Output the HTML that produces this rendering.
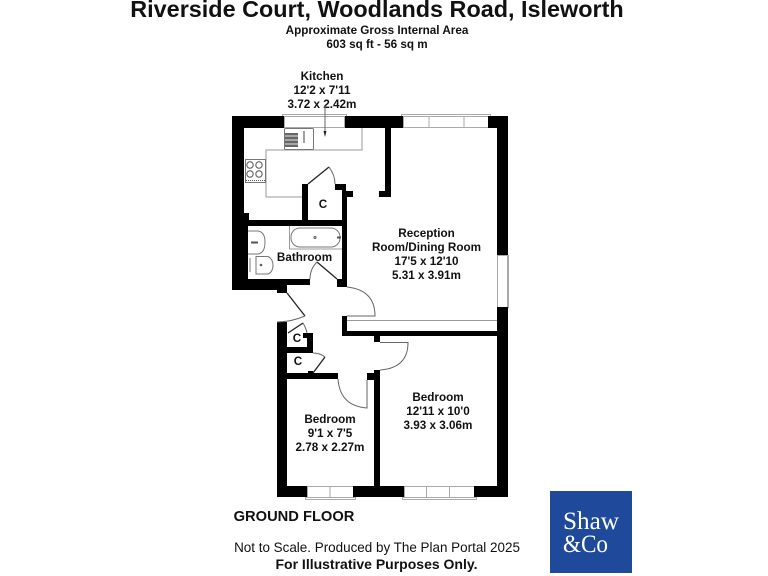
<!DOCTYPE html>
<html><head><meta charset="utf-8"><style>
html,body{margin:0;padding:0;background:#fff;width:768px;height:576px;overflow:hidden}
svg{display:block}
text{font-family:"Liberation Sans",Arial,sans-serif;text-anchor:middle;fill:#111}
.b{font-weight:bold}
.r{font-size:11.7px;font-weight:bold}
.l{font-family:"Liberation Serif",serif;text-anchor:start;fill:#fff}
</style></head><body>
<svg width="768" height="576" viewBox="0 0 768 576" xmlns="http://www.w3.org/2000/svg">
<text x="377" y="17" class="b" font-size="23.4">Riverside Court, Woodlands Road, Isleworth</text>
<text x="377" y="34" class="b" font-size="11.7">Approximate Gross Internal Area</text>
<text x="377" y="48" class="b" font-size="11.7">603 sq ft - 56 sq m</text>
<text x="322" y="80" class="r">Kitchen</text>
<text x="322" y="94" class="r">12'2 x 7'11</text>
<text x="322" y="108" class="r">3.72 x 2.42m</text>

<!-- fixtures -->
<g fill="none" stroke="#9a9a9a" stroke-width="1">
<path d="M362 128V150H266V197H302"/>
<rect x="284.500" y="128.500" width="29" height="21" rx="1" fill="#fff" stroke="#777"/>
<rect x="245.500" y="159.500" width="20" height="23" fill="#fff" stroke="#777"/>
<path d="M289.500 226V249H342"/>
<rect x="291" y="228" width="49" height="19" rx="9" stroke="#777"/>
<path d="M248 231H258Q265 232 265 242Q265 253 258 254H248" stroke="#777"/>
<path d="M256 256.500H268Q273 259 273 265Q273 272 268 274H256Z" stroke="#777"/>
<path d="M250 258V272" stroke="#777"/>
</g>
<!-- sink and hob detail -->
<rect x="285" y="133" width="13" height="14" fill="#666"/>
<path d="M285 136H298M285 140H298M285 144H298" stroke="#ccc" stroke-width="1.2"/>
<path d="M304 131V143" stroke="#444"/>
<g fill="none" stroke="#555">
<circle cx="250" cy="165" r="3.200"/><circle cx="259" cy="165" r="3.200"/>
<circle cx="250" cy="174" r="3.200"/><circle cx="259" cy="174" r="3.200"/>
<path d="M246 180.500H265" stroke-dasharray="1 1"/>
<circle cx="315" cy="237.500" r="1"/>
<circle cx="261" cy="265" r=".8"/>
</g>
<path d="M251 242.500H258M337 237.500H341" stroke="#555" stroke-width="2"/>

<!-- windows -->
<g fill="#fff" stroke="#aaa" stroke-width="1">
<rect x="282.500" y="114.500" width="64" height="2"/>
<rect x="284.500" y="116.500" width="60" height="11"/>
<rect x="401.500" y="114.500" width="89" height="2"/>
<rect x="403.500" y="116.500" width="85" height="11"/>
<path d="M429 116V128M464 116V128" fill="none"/>
<rect x="497.500" y="255.500" width="10" height="52"/>
<path d="M508.500 255V308" fill="none"/>
<rect x="307.500" y="486.500" width="46" height="11"/>
<path d="M330 487V497" fill="none"/>
<rect x="305.500" y="497.500" width="50" height="2"/>
<rect x="404.500" y="486.500" width="70" height="11"/>
<path d="M426.500 487V497M449.500 487V497" fill="none"/>
<rect x="402.500" y="497.500" width="74" height="2"/>
</g>

<!-- walls -->
<g fill="#000">
<path d="M232 116H284V128H244V213H249V220H342V190H335V184H346V191H353V197H347V287H337V279H310V285H287V293H277V290H232Z
M248 226V279H342V226Z" fill-rule="evenodd"/>
<rect x="345" y="116" width="58" height="12"/>
<rect x="385" y="128" width="6" height="69"/>
<rect x="379" y="191" width="12" height="6"/>
<rect x="488" y="116" width="20" height="12"/>
<rect x="497" y="116" width="11" height="139"/>
<rect x="497" y="307" width="11" height="190"/>
<rect x="302" y="184" width="6" height="36"/>
<path d="M342 316H347V331H497V336H380V342H374V336H342Z"/>
<rect x="374" y="370" width="6" height="127"/>
<rect x="367" y="373" width="13" height="7"/>
<rect x="277" y="322" width="10" height="175"/>
<rect x="277" y="486" width="30" height="11"/>
<rect x="353" y="486" width="51" height="11"/>
<rect x="474" y="486" width="34" height="11"/>
<rect x="307" y="333" width="6" height="20"/>
<rect x="303" y="333" width="10" height="5"/>
<rect x="287" y="347" width="26" height="6"/>
<rect x="287" y="373" width="51" height="6"/>
<rect x="308" y="371" width="5" height="3"/>
</g>
<!-- doors and thin lines -->
<g fill="none" stroke="#222" stroke-width="1.300">
<path d="M308 184L329 167"/>
<path d="M317 262L337 279"/>
<path d="M287 293L305 316"/>
<path d="M288 333L303 323"/>
<path d="M313 373L325 357"/>
</g>
<g fill="none" stroke="#666" stroke-width="1">
<path d="M329 167Q335 175 335 184"/>
<path d="M317 262Q310 269 310 279"/>
<path d="M305 316Q291 322 277 322"/>
<path d="M313 353Q320 353 325 357"/>
<path d="M303 323Q306 328 307 333"/>
<path d="M347 287Q375 290 375 316H347"/>
<path d="M338 379Q340 406 367 408V380"/>
<path d="M380 342.500H408Q408 368 380 370"/>
<path d="M347 320.500H497" stroke="#999"/>
<path d="M325 106V134"/>
</g>
<path d="M323.500 131H326.500L325 137Z" fill="#222"/>

<!-- labels -->
<text x="323" y="208" class="b" font-size="11.7">C</text>
<text x="297" y="342" class="b" font-size="11.7">C</text>
<text x="298" y="365" class="b" font-size="11.7">C</text>
<text x="304.500" y="261" class="r">Bathroom</text>
<text x="426.500" y="237" class="r">Reception</text>
<text x="426.500" y="251" class="r">Room/Dining Room</text>
<text x="426.500" y="265" class="r">17'5 x 12'10</text>
<text x="426.500" y="279" class="r">5.31 x 3.91m</text>
<text x="438" y="401" class="r">Bedroom</text>
<text x="438" y="415" class="r">12'11 x 10'0</text>
<text x="438" y="429" class="r">3.93 x 3.06m</text>
<text x="330" y="423" class="r">Bedroom</text>
<text x="330" y="437" class="r">9'1 x 7'5</text>
<text x="330" y="451" class="r">2.78 x 2.27m</text>
<text x="294" y="521" class="b" font-size="14.7">GROUND FLOOR</text>
<text x="377" y="552" font-size="13.45">Not to Scale. Produced by The Plan Portal 2025</text>
<text x="376.500" y="569" class="b" font-size="14">For Illustrative Purposes Only.</text>

<!-- logo -->
<rect x="550" y="491" width="82" height="82" fill="#1f4a9b"/>
<text x="563" y="529" font-size="25.500" class="l" textLength="56" lengthAdjust="spacingAndGlyphs">Shaw</text>
<text x="563" y="552" font-size="25.500" class="l" textLength="45" lengthAdjust="spacingAndGlyphs">&amp;Co</text>
</svg>
</body></html>
